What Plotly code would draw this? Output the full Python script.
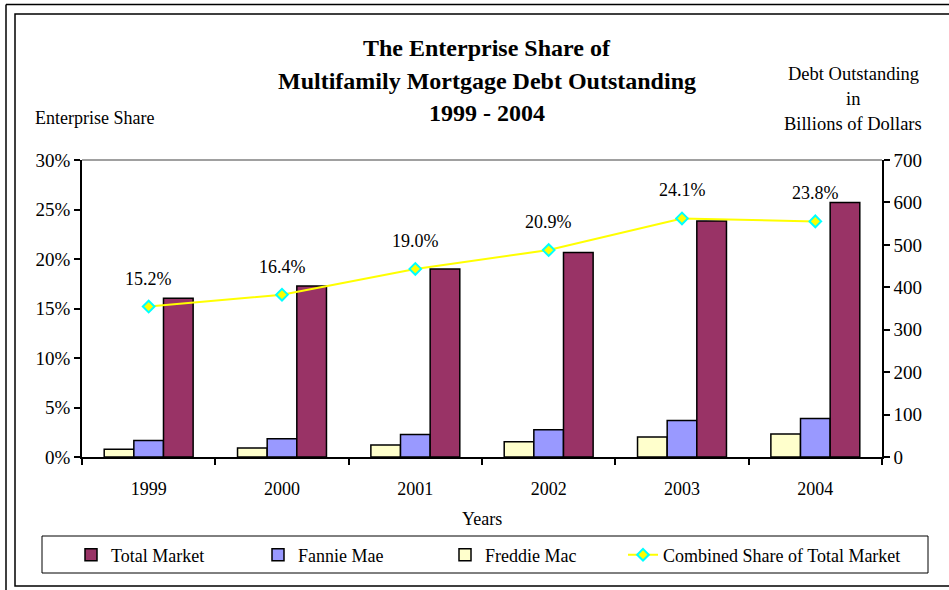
import plotly.graph_objects as go

years = ["1999", "2000", "2001", "2002", "2003", "2004"]
total_market = [374, 403, 443, 482, 556, 600]
fannie_mae = [39, 43, 53, 64, 86, 91]
freddie_mac = [18, 21, 28, 36, 47, 54]
combined_share = [15.2, 16.4, 19.0, 20.9, 24.1, 23.8]

FONT = "Liberation Serif, Times New Roman, serif"
L, R, T, B = 82, 67, 160, 133
W, H = 949, 590
PW, PH = W - L - R, H - T - B


def px(x):
    return (x - L) / PW


def py(y):
    return (H - B - y) / PH


fig = go.Figure()
bar_line = dict(color="black", width=1.5)
fig.add_trace(go.Bar(x=years, y=freddie_mac, name="Freddie Mac",
                     marker=dict(color="#FFFFCC", line=bar_line), legendrank=3))
fig.add_trace(go.Bar(x=years, y=fannie_mae, name="Fannie Mae",
                     marker=dict(color="#9999FF", line=bar_line), legendrank=2))
fig.add_trace(go.Bar(x=years, y=total_market, name="Total Market",
                     marker=dict(color="#993366", line=bar_line), legendrank=1))
fig.add_trace(go.Scatter(x=years, y=combined_share, name="Combined Share of Total Market",
                         yaxis="y2", mode="lines+markers", legend="legend2",
                         line=dict(color="#FFFF00", width=2),
                         marker=dict(symbol="diamond", size=9, color="#FFFF00",
                                     line=dict(color="#00FFFF", width=2))))

annotations = []
for i, v in enumerate(combined_share):
    annotations.append(dict(x=i, y=v, xref="x", yref="y2", text=f"{v:.1f}%",
                            showarrow=False, yshift=28,
                            font=dict(family=FONT, size=18, color="black")))


def txt(text, x, y, size=18, bold=False, xanchor="center"):
    return dict(x=px(x), y=py(y), xref="paper", yref="paper",
                text=(f"<b>{text}</b>" if bold else text),
                showarrow=False, xanchor=xanchor, yanchor="middle",
                font=dict(family=FONT, size=size, color="black"))


annotations += [
    txt("The Enterprise Share of", 487, 48, 24, True),
    txt("Multifamily Mortgage Debt Outstanding", 487, 81, 24, True),
    txt("1999 - 2004", 487, 113, 24, True),
    txt("Enterprise Share", 33, 118, 18, xanchor="left"),
    txt("Debt Outstanding", 853, 74, 18.5),
    txt("in", 853, 99, 18.5),
    txt("Billions of Dollars", 853, 124, 18.5),
    txt("Years", 482, 519, 18),
]

shapes = [
    dict(type="line", xref="paper", yref="paper", x0=0, x1=1, y0=1, y1=1,
         line=dict(color="#808080", width=1.5)),
    dict(type="rect", xref="paper", yref="paper", x0=px(15), x1=px(960), y0=py(14), y1=py(586),
         line=dict(color="black", width=1.5)),
    dict(type="line", xref="paper", yref="paper", x0=px(6), x1=px(960), y0=py(4.5), y1=py(4.5),
         line=dict(color="black", width=1.5)),
    dict(type="line", xref="paper", yref="paper", x0=px(6), x1=px(6), y0=py(4.5), y1=py(600),
         line=dict(color="black", width=1.5)),
    dict(type="rect", xref="paper", yref="paper", x0=px(42), x1=px(928), y0=py(536), y1=py(573),
         line=dict(color="black", width=1)),
]

legend_common = dict(orientation="h", yanchor="middle", xanchor="left",
                     font=dict(family=FONT, size=18), borderwidth=0,
                     bgcolor="rgba(0,0,0,0)")

fig.update_layout(
    width=W, height=H,
    margin=dict(l=L, r=R, t=T, b=B, autoexpand=False),
    paper_bgcolor="white", plot_bgcolor="white",
    font=dict(family=FONT, size=18, color="black"),
    barmode="group", bargap=0.333, bargroupgap=0,
    showlegend=True,
    legend=dict(x=px(71), y=py(555), entrywidth=142, traceorder="normal", **legend_common),
    legend2=dict(x=px(623), y=py(555), **legend_common),
    xaxis=dict(type="category", range=[-0.5, 5.5], showline=True, linecolor="black",
               linewidth=1.5, ticks="outside", tickson="boundaries", ticklen=6,
               tickcolor="black", tickwidth=1.5, ticklabelstandoff=15, showgrid=False,
               tickangle=0, tickfont=dict(family=FONT, size=18)),
    yaxis=dict(side="right", range=[0, 700], dtick=100, showline=True, linecolor="black",
               linewidth=1.5, ticks="outside", ticklen=6, tickcolor="black", tickwidth=1.5,
               showgrid=False, zeroline=False, tickfont=dict(family=FONT, size=19)),
    yaxis2=dict(side="left", overlaying="y", range=[0, 30], dtick=5, ticksuffix="%",
                showline=True, linecolor="black", linewidth=1.5, ticks="outside", ticklen=6,
                tickcolor="black", tickwidth=1.5, showgrid=False, zeroline=False,
                tickfont=dict(family=FONT, size=19)),
    annotations=annotations,
    shapes=shapes,
)

fig.write_html("out.html", config={"displayModeBar": False},
               post_script="document.body.style.margin='0';")
